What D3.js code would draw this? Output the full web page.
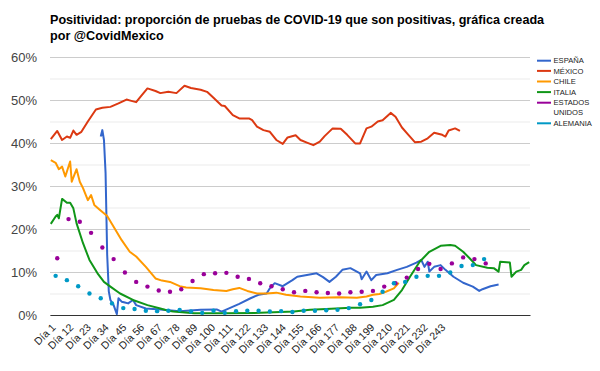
<!DOCTYPE html>
<html>
<head>
<meta charset="utf-8">
<script src="https://cdn.jsdelivr.net/npm/d3@7"></script>
<style>
  body { margin: 0; background: #fff; }
  svg { font-family: "Liberation Sans", Arial, sans-serif; }
</style>
</head>
<body>
<div id="chart"></div>
<script>
const titleLines = ["Positividad: proporción de pruebas de COVID-19 que son positivas, gráfica creada", "por @CovidMexico"]
const yTicks = [0, 10, 20, 30, 40, 50, 60]
const yMinor = [5, 15, 25, 35, 45, 55]
const xTicks = [1, 12, 23, 34, 45, 56, 67, 78, 89, 100, 111, 122, 133, 144, 155, 166, 177, 188, 199, 210, 221, 232, 243]
const totalDays = 298

// [día, %]
const espana = [[32,41.5],[33,43.0],[34,40.7],[35,33],[36,14],[37,5.5],[38,3.5],[40,2.3],[42,0.2],[43,3.9],[45,3.1],[47,2.9],[49,2.7],[52,3.5],[54,2.3],[60,1.5],[69,1.3],[81,0.9],[94,1.2],[104,1.3],[107,0.8],[112,1.6],[118,2.6],[125,3.9],[130,4.7],[135,5.0],[137,6.2],[140,7.4],[145,6.7],[151,8.1],[154,8.9],[160,9.3],[166,9.7],[170,8.8],[174,7.7],[178,8.9],[182,10.5],[187,10.9],[193,9.7],[194,8.3],[197,10.1],[200,8.1],[203,9.3],[210,9.7],[216,10.5],[222,11.2],[228,12.2],[231,12.8],[233,11.2],[235,12.4],[236,10.1],[239,11.2],[243,11.6],[246,10.5],[251,8.9],[257,7.5],[263,6.6],[267,5.6],[269,6.0],[274,6.7],[279,7.1]]
const mexico = [[1,40.9],[5,42.8],[8,40.7],[11,41.5],[13,41.2],[15,42.9],[17,41.9],[20,42.6],[24,45.0],[29,47.8],[33,48.2],[38,48.4],[43,49.2],[48,50.1],[51,49.8],[54,49.5],[57,50.9],[61,52.7],[66,52.1],[69,51.6],[74,51.9],[79,51.6],[84,53.3],[88,52.8],[94,52.4],[98,51.9],[102,50.5],[107,48.7],[109,48.6],[114,46.5],[118,45.7],[124,45.7],[126,45.3],[129,43.8],[133,43.0],[137,42.6],[141,40.7],[145,39.8],[148,41.3],[153,41.8],[156,40.7],[160,40.1],[164,39.5],[168,40.3],[171,41.6],[176,43.4],[181,43.3],[185,41.9],[190,39.9],[193,39.9],[197,43.4],[200,43.8],[204,45.0],[207,45.3],[212,47.0],[215,46.1],[219,43.6],[223,41.9],[227,40.2],[231,40.3],[235,41.1],[239,42.4],[244,41.9],[246,41.5],[248,42.9],[252,43.4],[255,42.8]]
const chile = [[1,36.0],[4,35.4],[6,33.9],[8,34.5],[10,32.2],[13,35.7],[14,31.0],[17,33.9],[19,31.0],[21,29.5],[24,26.7],[26,27.9],[28,25.6],[31,24.6],[36,23.0],[40,20.5],[45,17.4],[50,14.7],[54,13.6],[60,11.2],[66,8.5],[70,8.0],[75,7.7],[81,6.7],[85,6.4],[94,6.2],[102,5.8],[110,5.6],[114,6.0],[118,6.3],[123,5.6],[129,5.0],[135,5.0],[141,5.2],[147,4.7],[156,4.3],[168,4.0],[180,4.1],[191,4.0],[197,4.3],[201,4.7],[205,4.9],[209,5.4],[214,6.2],[217,7.5]]
const italia = [[1,21.2],[4,22.9],[5,23.3],[6,22.5],[8,27.0],[11,26.1],[13,26.1],[15,24.8],[17,21.3],[21,16.7],[25,12.8],[30,9.7],[34,7.7],[38,6.6],[44,5.0],[52,3.5],[61,2.3],[69,1.5],[74,1.0],[77,0.8],[90,0.4],[110,0.4],[131,0.5],[152,0.8],[162,1.2],[172,1.4],[187,1.7],[193,1.7],[201,1.9],[207,2.3],[214,3.5],[219,5.8],[224,8.9],[230,12.4],[236,14.7],[243,16.1],[249,16.3],[252,16.1],[257,14.7],[261,13.2],[265,11.6],[272,11.0],[276,10.9],[279,10.1],[280,12.4],[286,12.2],[287,8.9],[290,10.1],[293,10.5],[295,11.6],[298,12.3]]
// semanales, puntos
const eeuuDias = [5,12,19,26,33,40,47,54,61,68,75,82,89,96,103,110,117,124,131,138,145,152,159,166,173,180,187,194,201,208,215,222,229,236,243,250,257,264,271]
const eeuuVals = [13.2,22.3,21.7,19.1,15.7,13.0,9.9,7.7,6.6,5.7,5.4,6.0,7.9,9.5,9.7,9.8,8.9,8.4,7.4,6.7,6.0,5.3,5.6,5.3,5.1,5.0,5.3,5.4,5.6,6.6,7.4,8.7,10.7,11.9,10.7,12.0,13.4,13.0,12.0]
const alemaniaDias = [4,11,18,25,32,39,46,53,60,67,74,81,88,95,102,109,116,123,130,137,144,151,158,165,172,179,186,193,200,207,214,221,228,235,242,249,256,263,270]
const alemaniaVals = [9.1,8.1,6.7,5.0,3.9,2.7,1.6,1.4,1.0,0.9,1.0,1.2,0.8,0.5,1.0,0.5,0.9,1.0,1.0,0.8,0.9,0.7,1.0,1.0,1.1,1.2,1.6,2.5,3.5,5.4,7.4,7.7,8.9,9.1,9.1,9.9,11.4,11.6,13.0]

const lineas = [
  {nombre: "ESPAÑA", color: "#3366cc", datos: espana},
  {nombre: "MÉXICO", color: "#dc3912", datos: mexico},
  {nombre: "CHILE", color: "#ff9900", datos: chile},
  {nombre: "ITALIA", color: "#109618", datos: italia}
]
const puntos = [
  {nombre: "ESTADOS UNIDOS", color: "#990099", datos: eeuuDias.map((d, i) => [d, eeuuVals[i]])},
  {nombre: "ALEMANIA", color: "#0099c6", datos: alemaniaDias.map((d, i) => [d, alemaniaVals[i]])}
]

const width = 600
const height = 371
const plotLeft = 50, plotRight = 530, plotTop = 57, plotBottom = 315

const xScale = d3.scaleLinear()
  .domain([0.5, totalDays + 0.5])
  .range([plotLeft, plotRight])

const yScale = d3.scaleLinear()
  .domain([0, 60])
  .range([plotBottom, plotTop])

const svg = d3.select("#chart")
  .append("svg")
  .attr("width", width)
  .attr("height", height)

svg.append("g")
  .selectAll("text")
  .data(titleLines)
  .enter()
  .append("text")
  .attr("x", 50)
  .attr("y", (d, i) => 24 + i * 15.5)
  .attr("font-size", "12.6px")
  .attr("font-weight", "bold")
  .attr("fill", "#000")
  .text(d => d)

// cuadrícula menor
svg.append("g")
  .attr("transform", `translate(${plotLeft},0)`)
  .call(d3.axisLeft(yScale).tickValues(yMinor).tickSize(-(plotRight - plotLeft)).tickFormat(""))
  .call(g => g.select(".domain").remove())
  .call(g => g.selectAll("line").attr("stroke", "#ebebeb"))

const yAxis = svg.append("g")
  .attr("transform", `translate(${plotLeft},0)`)
  .call(d3.axisLeft(yScale).tickValues(yTicks).tickSize(-(plotRight - plotLeft)).tickFormat(d => d + "%").tickPadding(13))
yAxis.select(".domain").remove()
yAxis.selectAll("line").attr("stroke", "#cccccc")
yAxis.selectAll("text")
  .attr("font-size", "13px")
  .attr("fill", "#444")
  .attr("font-family", "Liberation Sans, Arial, sans-serif")

const xAxis = svg.append("g")
  .attr("transform", `translate(0,${plotBottom})`)
  .call(d3.axisBottom(xScale).tickValues(xTicks).tickSize(0).tickFormat(d => "Día " + d))
xAxis.select(".domain").attr("stroke", "#333")
xAxis.selectAll("text")
  .attr("font-size", "10.5px")
  .attr("fill", "#222")
  .attr("font-family", "Liberation Sans, Arial, sans-serif")
  .attr("text-anchor", "end")
  .attr("y", 0)
  .attr("dy", 0)
  .attr("transform", "translate(5,13) rotate(-45)")

const lineGen = d3.line()
  .x(d => xScale(d[0]))
  .y(d => yScale(d[1]))

svg.append("g")
  .selectAll("path")
  .data(lineas)
  .enter()
  .append("path")
  .attr("fill", "none")
  .attr("stroke", d => d.color)
  .attr("stroke-width", 2)
  .attr("stroke-linejoin", "round")
  .attr("d", d => lineGen(d.datos))

puntos.forEach(serie => {
  svg.append("g")
    .selectAll("circle")
    .data(serie.datos)
    .enter()
    .append("circle")
    .attr("cx", d => xScale(d[0]))
    .attr("cy", d => yScale(d[1]))
    .attr("r", 2.2)
    .attr("fill", serie.color)
})

// leyenda
const leyenda = [
  {nombre: ["ESPAÑA"], color: "#3366cc", y: 60.7},
  {nombre: ["MÉXICO"], color: "#dc3912", y: 70.9},
  {nombre: ["CHILE"], color: "#ff9900", y: 81.5},
  {nombre: ["ITALIA"], color: "#109618", y: 92.1},
  {nombre: ["ESTADOS", "UNIDOS"], color: "#990099", y: 102.7},
  {nombre: ["ALEMANIA"], color: "#0099c6", y: 123.3}
]
const item = svg.append("g")
  .selectAll("g")
  .data(leyenda)
  .enter()
  .append("g")
  .attr("transform", d => `translate(537,${d.y})`)

item.append("line")
  .attr("x1", 0)
  .attr("x2", 14)
  .attr("stroke", d => d.color)
  .attr("stroke-width", 2)

item.append("text")
  .attr("x", 16.5)
  .attr("font-size", "7.6px")
  .attr("fill", "#222")
  .selectAll("tspan")
  .data(d => d.nombre)
  .enter()
  .append("tspan")
  .attr("x", 16.5)
  .attr("y", (d, i) => 2.7 + i * 9.3)
  .text(d => d)
</script>
</body>
</html>
